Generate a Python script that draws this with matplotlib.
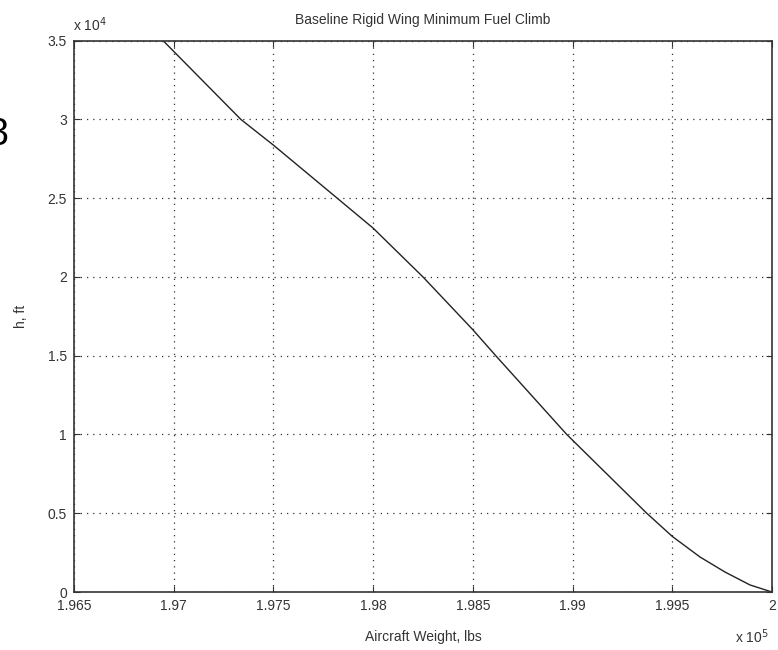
import matplotlib
matplotlib.use("Agg")
import matplotlib.pyplot as plt

# Data (aircraft weight in units of 1e5 lbs, altitude in ft)
weight = [1.96947, 1.97337, 1.97500, 1.97820, 1.98000, 1.98250,
          1.98500, 1.98615, 1.98971, 1.99372, 1.99500, 1.99639, 1.99764,
          1.99890, 2.00000]
altitude = [35000, 30000, 28370, 25000, 23100, 20000,
            16650, 15000, 10000, 5000, 3530, 2223, 1271,
            446, 0]

xticks = [1.965, 1.97, 1.975, 1.98, 1.985, 1.99, 1.995, 2.0]
xticklabels = ["1.965", "1.97", "1.975", "1.98", "1.985", "1.99", "1.995", "2"]
yticks = [0, 5000, 10000, 15000, 20000, 25000, 30000, 35000]
yticklabels = ["0", "0.5", "1", "1.5", "2", "2.5", "3", "3.5"]

plt.rcParams['font.family'] = ['Liberation Sans', 'DejaVu Sans']
fig = plt.figure(figsize=(7.78, 6.5), dpi=100)
ax = fig.add_axes([0.0951, 0.0892, 0.8972, 0.8482])

ax.plot(weight, altitude, color='#222222', lw=1.0)
ax.set_xlim(1.965, 2.0)
ax.set_ylim(0, 35000)
ax.set_xticks(xticks)
ax.set_xticklabels(xticklabels, fontsize=10, color='#333333')
ax.set_yticks(yticks)
ax.set_yticklabels(yticklabels, fontsize=10, color='#333333')
ax.tick_params(direction='in', top=True, right=True, length=4, color='#333333')
ax.tick_params(axis='x', pad=5)
ax.tick_params(axis='y', pad=5)
ax.grid(True, linestyle=(0, (1, 4)), color='#333333', lw=0.9)
for s in ax.spines.values():
    s.set_linewidth(1.2)
    s.set_color('#333333')

ax.set_title("Baseline Rigid Wing Minimum Fuel Climb", fontsize=10, color='#333333', pad=12)
ax.set_xlabel("Aircraft Weight, lbs", fontsize=10, color='#333333', labelpad=12)
ax.set_ylabel("h, ft", fontsize=10, color='#333333', labelpad=14)

fig.text(0.094, 0.948, r"x 10$^4$", fontsize=10, color='#333333', ha='left', va='bottom')
fig.text(0.988, 0.006, r"x 10$^5$", fontsize=10, color='#333333', ha='right', va='bottom')
fig.text(0.011, 0.792, "3", fontsize=27, color='black', ha='right', va='center')

fig.savefig("out.png", dpi=100)
